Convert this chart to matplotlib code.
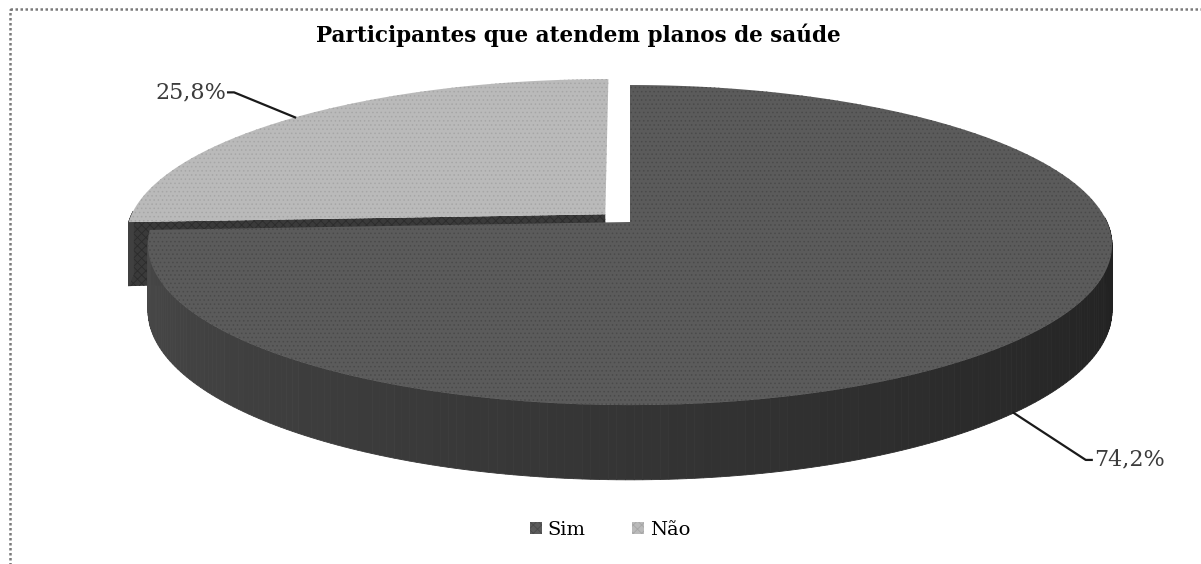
import numpy as np
import matplotlib.pyplot as plt
from matplotlib.patches import Polygon, Rectangle, Patch

# dados do gráfico
categorias = ['Sim', 'Não']
percentuais = [74.2, 25.8]
rotulos = ['74,2%', '25,8%']
titulo = 'Participantes que atendem planos de saúde'

cores_topo = ['#5b5b5b', '#bababa']
cores_textura = ['#4a4a4a', '#a6a6a6']
explodir = [0.0, 0.072]

plt.rcParams['hatch.linewidth'] = 0.6
fonte = ['DejaVu Serif']

fig = plt.figure(figsize=(12.01, 5.64), dpi=100)
ax = fig.add_axes([0, 0, 1, 1])
ax.set_xlim(0, 1201)
ax.set_ylim(564, 0)
ax.axis('off')

# projeção simples com perspectiva (pizza 3D estilo Excel)
cx, cy = 630, 222
A, B, p = 477, 156.7, 0.144
H = 64


def proj(X, Z, baixo=0.0):
    w = 1 + p * Z
    return cx + A * X / w, cy - B * Z / w + baixo * H / w


def cor_parede(t):
    # t em graus (180 -> esquerda, 360 -> direita)
    f = np.clip((t - 180) / 180, 0, 1)
    c1 = np.array([0x4a, 0x4a, 0x4a]) / 255
    c2 = np.array([0x1f, 0x1f, 0x1f]) / 255
    return c1 * (1 - f) + c2 * f


total = sum(percentuais)
angulos = []
ini = 90.0
for v in percentuais:
    fim = ini - 360 * v / total
    angulos.append((ini, fim))
    ini = fim

# desenhar a fatia de trás (Não) primeiro, depois a da frente (Sim)
ancoras = {}
for i in [1, 0]:
    a0, a1 = angulos[i]
    meio = np.radians((a0 + a1) / 2)
    ox, oz = explodir[i] * np.cos(meio), explodir[i] * np.sin(meio)
    th = np.radians(np.linspace(a0, a1, 300))
    X = ox + np.cos(th)
    Z = oz + np.sin(th)

    # face de corte do lado esquerdo (visível na fatia Não)
    if i == 1:
        xe, ze = X[0], Z[0]
        pts = [proj(ox, oz), proj(xe, ze), proj(xe, ze, 1), proj(ox, oz, 1)]
        ax.add_patch(Polygon(pts, closed=True, facecolor='#3a3a3a',
                             edgecolor='#2c2c2c', linewidth=0, hatch='xxxx'))

    # parede lateral (frente)
    for k in range(len(th) - 1):
        if np.sin(th[k]) > 0.02 and np.sin(th[k + 1]) > 0.02:
            continue
        t = np.degrees(th[k]) % 360
        if t < 90:
            t += 360
        c = cor_parede(t) if i == 0 else np.array([0.25, 0.25, 0.25])
        pts = [proj(X[k], Z[k]), proj(X[k + 1], Z[k + 1]),
               proj(X[k + 1], Z[k + 1], 1), proj(X[k], Z[k], 1)]
        ax.add_patch(Polygon(pts, closed=True, facecolor=c, edgecolor=c,
                             linewidth=0.6))

    # topo
    pts = [proj(ox, oz)] + [proj(x, z) for x, z in zip(X, Z)]
    ax.add_patch(Polygon(pts, closed=True, facecolor=cores_topo[i],
                         edgecolor=cores_textura[i], linewidth=0, hatch='....'))

    xm, zm = ox + np.cos(meio), oz + np.sin(meio)
    if np.sin(meio) < 0:
        ancoras[i] = proj(xm, zm, 1)
    else:
        ancoras[i] = proj(xm, zm)

# rótulos com linhas de chamada
desloc = {0: (72, 47), 1: (-61, -25)}
for i in [0, 1]:
    x0, y0 = ancoras[i]
    dx, dy = desloc[i]
    s = 1 if dx > 0 else -1
    xs = [x0, x0 + dx, x0 + dx + 6 * s]
    ys = [y0, y0 + dy, y0 + dy]
    ax.plot(xs, ys, color='#1a1a1a', linewidth=1.6)
    ax.text(xs[-1] + 2 * s, ys[-1], rotulos[i], ha='left' if s > 0 else 'right',
            va='center', fontsize=16, color='#3c3c3c', family=fonte)

ax.text(578, 35, titulo, ha='center', va='center', fontsize=15.5,
        fontweight='bold', color='black', family=fonte)

# borda pontilhada do gráfico
ax.add_patch(Rectangle((10, 9), 1200, 565, fill=False, edgecolor='#7a7a7a',
                       linewidth=1.8, linestyle=(0, (1, 1))))

handles = [Patch(facecolor=cores_topo[0], edgecolor=cores_textura[0], hatch='xxxx', linewidth=0),
           Patch(facecolor=cores_topo[1], edgecolor=cores_textura[1], hatch='xxxx', linewidth=0)]
fig.legend(handles, categorias, loc='center', bbox_to_anchor=(0.508, 0.06), ncol=2,
           frameon=False, prop={'family': fonte, 'size': 14}, handlelength=0.6,
           handleheight=0.6, handletextpad=0.3, columnspacing=2.4)

fig.savefig('out.png', dpi=100)
